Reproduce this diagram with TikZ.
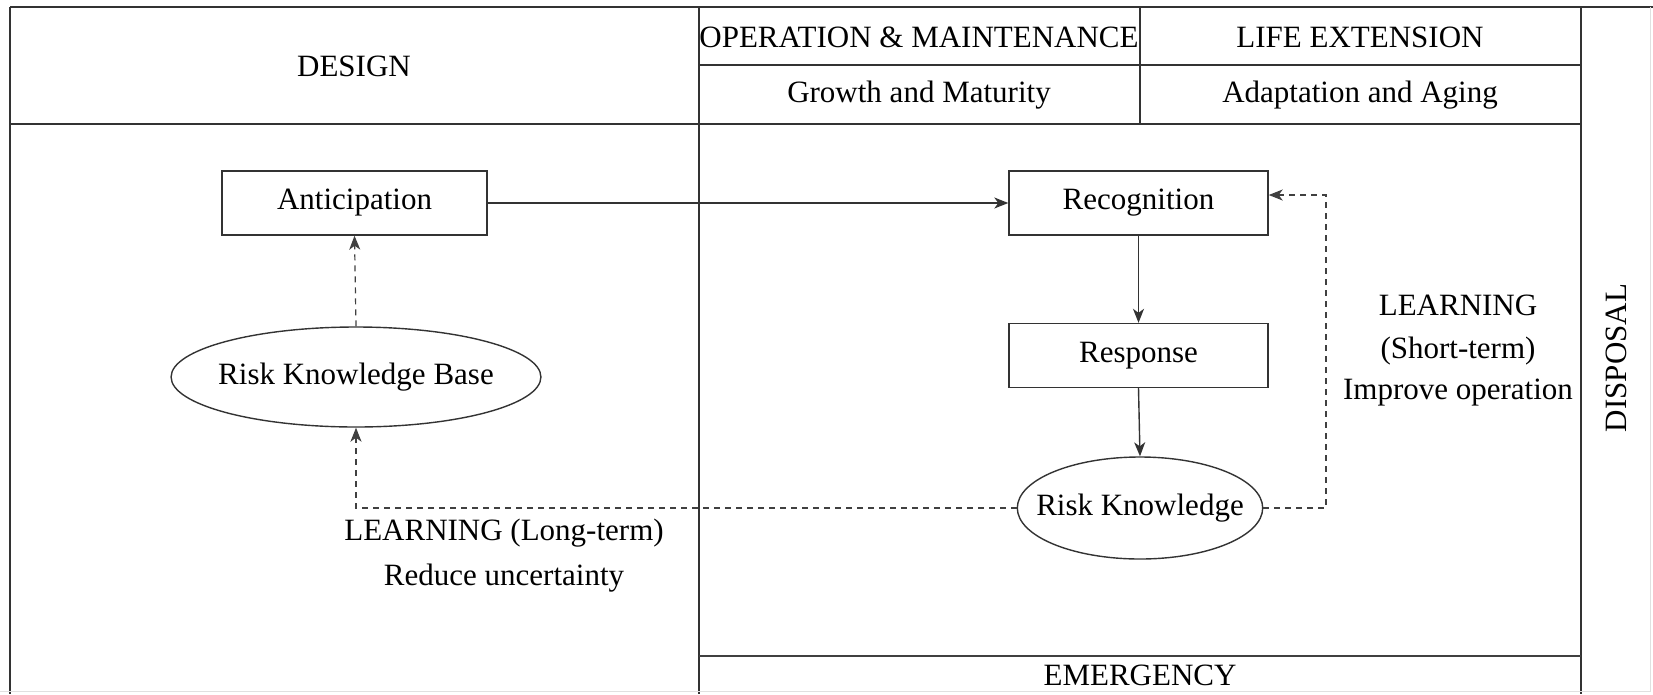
\documentclass[tikz,border=0pt]{standalone}
\usepackage{fontspec}
\setmainfont{Liberation Serif}
\usetikzlibrary{arrows.meta,shapes.geometric}
\begin{document}
\begin{tikzpicture}[x=1pt,y=-1pt,
  frame/.style={line width=1.4pt,draw=black!80},
  label/.style={inner sep=0pt,font=\fontsize{31}{37}\selectfont},
  stepbox/.style={draw=black!80,line width=1.4pt,rectangle,minimum width=265pt,minimum height=64pt,inner sep=0pt,font=\fontsize{31}{37}\selectfont},
  blob/.style={draw=black!80,line width=1.4pt,ellipse,inner ysep=0pt,font=\fontsize{31}{37}\selectfont},
  flow/.style={line width=1.4pt,draw=black!80,-{Stealth[length=14pt,width=11pt,inset=4pt]}},
  feedback/.style={line width=1.2pt,draw=black!75,dash pattern=on 6pt off 5pt},
  feedbackarrow/.style={feedback,-{Stealth[length=14pt,width=11pt,inset=4pt]}}]
\useasboundingbox (0,0) rectangle (1653,694);
\fill[white] (0,0) rectangle (1653,694);

% phase grid
\draw[frame] (10,7) -- (1653,7);
\draw[frame] (10,7) -- (10,694);
\draw[frame] (699,7) -- (699,694);
\draw[frame] (1581,7) -- (1581,694);
\draw[frame] (10,124) -- (1581,124);
\draw[frame] (699,65) -- (1581,65);
\draw[frame] (1140,7) -- (1140,124);
\draw[line width=2pt,draw=black!75] (699,656) -- (1581,656);
\draw[line width=1pt,draw=black!12] (1650,7) -- (1650,691) -- (0,691);

% phase titles
\node[label] (design) at (354,66) {DESIGN};
\node[label] (om) at (919,37) {OPERATION \& MAINTENANCE};
\node[label] (life) at (1360,37) {LIFE EXTENSION};
\node[label] (growth) at (919,95) {Growth and Maturity};
\node[label] (adapt) at (1360,95) {Adaptation and Aging};
\node[label] (emerg) at (1140,675) {EMERGENCY};
\node[label,rotate=90] (disp) at (1616,358) {DISPOSAL};

% process nodes
\node[stepbox] (ant) at (354.5,203) {Anticipation};
\node[stepbox,minimum width=259pt] (rec) at (1138.5,203) {Recognition};
\node[stepbox,minimum width=259pt] (resp) at (1138.5,355.5) {Response};
\node[blob,inner xsep=-7pt,minimum width=369pt,minimum height=100pt] (rkb) at (356,377) {Risk Knowledge Base};
\node[blob,inner xsep=-17pt,minimum width=245pt,minimum height=102pt] (rk) at (1140,508) {Risk Knowledge};

% main flow
\draw[flow] (ant.east) -- (rec.west);
\draw[flow] (rec.south) -- (resp.north);
\draw[flow] (resp.south) -- (rk.north);

% learning loops
\coordinate (shortturn) at (1326,508);
\draw[feedbackarrow] (rk.east) -- (shortturn) |- ([yshift=8pt]rec.east);
\draw[feedbackarrow] (rk.west) -| (rkb.south);
\draw[feedbackarrow] (rkb.north) -- (ant.south);

% loop labels
\node[label] (longa) at (504,533) {LEARNING (Long-term)};
\node[label] (longb) at (504,578) {Reduce uncertainty};
\node[label] (shorta) at (1458,305) {LEARNING};
\node[label] (shortb) at (1458,351) {(Short-term)};
\node[label] (shortc) at (1458,393) {Improve operation};
\end{tikzpicture}
\end{document}
